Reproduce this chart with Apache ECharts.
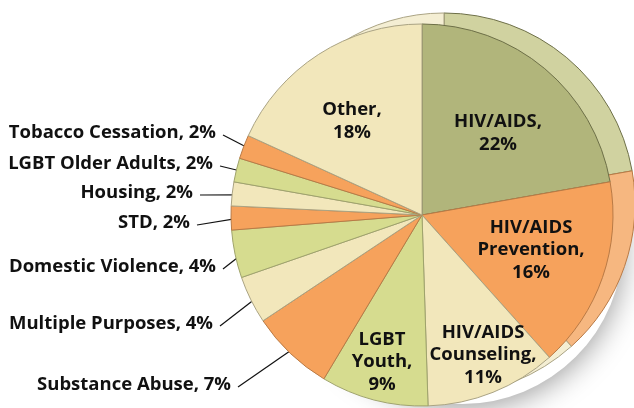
<!DOCTYPE html>
<html><head><meta charset="utf-8">
<script src="https://cdn.jsdelivr.net/npm/echarts@6/dist/echarts.min.js"></script>
<style>html,body{margin:0;padding:0;background:#fff}#c{width:634px;height:408px}</style>
</head><body><div id="c"></div>
<script>
// ---- data ----
const categories = ['HIV/AIDS','HIV/AIDS Prevention','HIV/AIDS Counseling','LGBT Youth','Substance Abuse','Multiple Purposes','Domestic Violence','STD','Housing','LGBT Older Adults','Tobacco Cessation','Other'];
const values = [22,16,11,9,7,4,4,2,2,2,2,18];
const displayNames = ['HIV/AIDS','HIV/AIDS\nPrevention','HIV/AIDS\nCounseling','LGBT\nYouth','Substance Abuse','Multiple Purposes','Domestic Violence','STD','Housing','LGBT Older Adults','Tobacco Cessation','Other'];
const insideLabel = [true,true,true,true,false,false,false,false,false,false,false,true];

// ---- styles / layout ----
const OLIVE='#b1b57b', ORANGE='#f6a25c', CREAM='#f2e7bb', GREEN='#d6dc8f';
const sliceColors = [OLIVE,ORANGE,CREAM,GREEN,ORANGE,CREAM,GREEN,ORANGE,CREAM,GREEN,ORANGE,CREAM];
const sideMap = {};
sideMap[OLIVE]='#d0d2a0'; sideMap[ORANGE]='#f6b780'; sideMap[CREAM]='#f4eed3'; sideMap[GREEN]='#e3e7b3';
const borderMap = {};
borderMap[OLIVE]='#6d6f47'; borderMap[ORANGE]='#b97a45'; borderMap[CREAM]='#aaa383'; borderMap[GREEN]='#9fa36c';
const labelPos = [[498,133],[531,250],[483,355],[382,362],[231,385],[213,324],[216,267],[190,223],[193,193],[213,164],[216,133],[352,121]];
const CX=422, CY=215, R=191, SIDE_DX=22, SIDE_DY=-11;

const total = values.reduce((a,b)=>a+b,0);
function midAngle(i){ let c=0; for(let k=0;k<i;k++) c+=values[k]; return (c+values[i]/2)/total*2*Math.PI; }

const chart = echarts.init(document.getElementById('c'), null, {renderer:'canvas'});
const mainData = categories.map((n,i)=>({
  name:n, value:values[i],
  itemStyle:{color:sliceColors[i], borderColor:borderMap[sliceColors[i]]},
  label:{position: insideLabel[i]?'inside':'outside'},
  labelLine:{show:!insideLabel[i]}
}));
const sideData = categories.map((n,i)=>({
  name:n, value:values[i],
  itemStyle:{color:sideMap[sliceColors[i]], borderColor:borderMap[sliceColors[i]]}
}));

chart.setOption({
  animation:false,
  series:[
    { type:'pie', silent:true, center:[CX+40, CY+28], radius:R-30, label:{show:false}, labelLine:{show:false},
      itemStyle:{color:'#fff', shadowBlur:30, shadowColor:'rgba(0,0,0,0.4)', shadowOffsetY:4},
      data:[{value:total, name:'shadow'}] },
    { type:'pie', silent:true, center:[CX+SIDE_DX, CY+SIDE_DY], radius:R, label:{show:false}, labelLine:{show:false},
      itemStyle:{borderWidth:1}, data:sideData },
    { type:'pie', center:[CX, CY], radius:R, avoidLabelOverlap:false,
      itemStyle:{borderWidth:1},
      label:{
        formatter:p=>displayNames[p.dataIndex]+','+(insideLabel[p.dataIndex]?'\n':' ')+p.value+'%',
        fontFamily:'Open Sans', fontWeight:700, fontSize:18.5, color:'#111', lineHeight:22.5
      },
      labelLine:{lineStyle:{color:'#111', width:1.2}},
      labelLayout:function(p){
        const i=p.dataIndex, pos=labelPos[i];
        if(insideLabel[i]) return {x:pos[0], y:pos[1], align:'center', verticalAlign:'middle'};
        const a=midAngle(i), r=R*0.95;
        const inner=[CX+r*Math.sin(a), CY-r*Math.cos(a)];
        const outer=[pos[0]+7, pos[1]+2];
        return {x:pos[0], y:pos[1], align:'right', verticalAlign:'middle', labelLinePoints:[outer, outer, inner]};
      },
      data:mainData }
  ]
});
</script></body></html>
